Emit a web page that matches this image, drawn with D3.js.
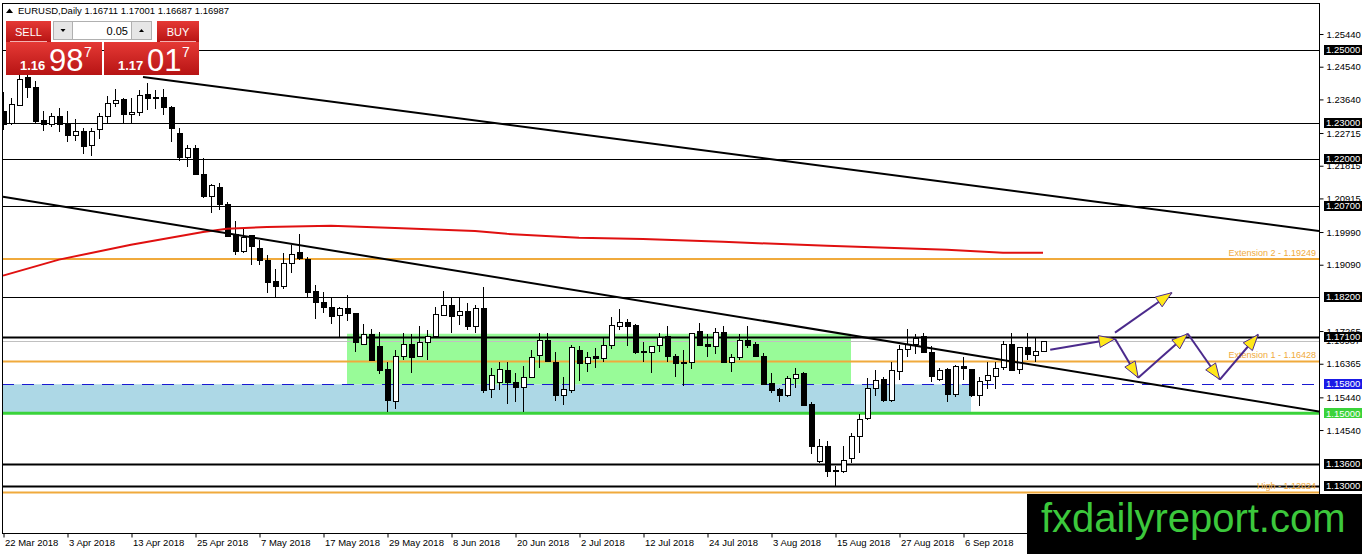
<!DOCTYPE html>
<html>
<head>
<meta charset="utf-8">
<script src="https://cdn.jsdelivr.net/npm/d3@7"></script>
<style>
  body { margin: 0; background: #fff; }
  svg { display: block; font-family: "Liberation Sans", Arial, sans-serif; }
</style>
</head>
<body>
<svg id="chart" width="1362" height="554"></svg>
<script>
// EURUSD daily candles, one row per bar: [open, high, low, close]
var candles = [
  [1.2330,1.2385,1.2280,1.2294],[1.2299,1.2368,1.2294,1.2349],[1.2346,1.2445,1.2346,1.2418],[1.2423,1.2451,1.2368,1.2396],
  [1.2398,1.2415,1.2299,1.2302],[1.2305,1.2332,1.2277,1.2296],[1.2296,1.2327,1.2288,1.2316],[1.2316,1.2341,1.2275,1.2296],
  [1.2294,1.2332,1.2247,1.2266],[1.2264,1.2310,1.2250,1.2275],[1.2275,1.2286,1.2214,1.2234],[1.2236,1.2286,1.2209,1.2275],
  [1.2280,1.2327,1.2256,1.2316],[1.2316,1.2374,1.2297,1.2352],[1.2352,1.2393,1.2344,1.2360],[1.2363,1.2368,1.2299,1.2322],
  [1.2322,1.2368,1.2299,1.2327],[1.2327,1.2390,1.2319,1.2374],[1.2377,1.2410,1.2336,1.2366],[1.2368,1.2390,1.2338,1.2366],
  [1.2368,1.2393,1.2322,1.2341],[1.2341,1.2347,1.2247,1.2283],[1.2270,1.2286,1.2195,1.2204],[1.2204,1.2239,1.2179,1.2228],
  [1.2228,1.2239,1.2157,1.2157],[1.2157,1.2204,1.2094,1.2096],[1.2096,1.2132,1.2052,1.2127],[1.2121,1.2135,1.2061,1.2074],
  [1.2074,1.2083,1.1986,1.1986],[1.1992,1.2030,1.1937,1.1945],[1.1945,1.2008,1.1942,1.1983],[1.1989,1.1992,1.1909,1.1959],
  [1.1953,1.1978,1.1907,1.1920],[1.1920,1.1937,1.1832,1.1860],[1.1863,1.1896,1.1821,1.1849],[1.1849,1.1942,1.1841,1.1912],
  [1.1912,1.1964,1.1887,1.1937],[1.1942,1.1994,1.1923,1.1926],[1.1923,1.1929,1.1821,1.1832],[1.1835,1.1852,1.1761,1.1805],
  [1.1805,1.1835,1.1775,1.1791],[1.1791,1.1821,1.1747,1.1766],[1.1769,1.1794,1.1711,1.1788],[1.1788,1.1827,1.1753,1.1775],
  [1.1775,1.1777,1.1670,1.1695],[1.1689,1.1747,1.1689,1.1717],[1.1717,1.1731,1.1645,1.1645],[1.1684,1.1725,1.1607,1.1618],
  [1.1621,1.1640,1.1505,1.1535],[1.1532,1.1673,1.1513,1.1656],[1.1656,1.1722,1.1648,1.1689],[1.1689,1.1717,1.1612,1.1653],
  [1.1656,1.1741,1.1656,1.1695],[1.1695,1.1728,1.1648,1.1711],[1.1711,1.1794,1.1708,1.1772],[1.1769,1.1838,1.1769,1.1797],
  [1.1797,1.1819,1.1722,1.1766],[1.1769,1.1819,1.1744,1.1780],[1.1780,1.1805,1.1728,1.1739],[1.1739,1.1799,1.1722,1.1788],
  [1.1788,1.1849,1.1557,1.1563],[1.1566,1.1626,1.1541,1.1604],[1.1585,1.1640,1.1563,1.1620],[1.1618,1.1640,1.1527,1.1585],
  [1.1585,1.1612,1.1532,1.1571],[1.1571,1.1631,1.1505,1.1599],[1.1599,1.1673,1.1599,1.1653],[1.1658,1.1722,1.1626,1.1700],
  [1.1700,1.1720,1.1642,1.1642],[1.1640,1.1670,1.1535,1.1549],[1.1549,1.1599,1.1524,1.1566],[1.1563,1.1689,1.1555,1.1681],
  [1.1673,1.1684,1.1588,1.1637],[1.1637,1.1670,1.1615,1.1653],[1.1656,1.1681,1.1626,1.1651],[1.1651,1.1711,1.1642,1.1686],
  [1.1686,1.1766,1.1678,1.1741],[1.1739,1.1788,1.1728,1.1750],[1.1750,1.1761,1.1686,1.1739],[1.1741,1.1747,1.1662,1.1667],
  [1.1670,1.1695,1.1642,1.1667],[1.1667,1.1684,1.1612,1.1684],[1.1686,1.1722,1.1670,1.1708],[1.1711,1.1741,1.1642,1.1656],
  [1.1656,1.1662,1.1601,1.1637],[1.1640,1.1675,1.1574,1.1637],[1.1640,1.1722,1.1623,1.1720],[1.1725,1.1750,1.1684,1.1686],
  [1.1689,1.1717,1.1656,1.1684],[1.1684,1.1736,1.1662,1.1722],[1.1722,1.1741,1.1640,1.1640],[1.1640,1.1662,1.1615,1.1653],
  [1.1653,1.1717,1.1648,1.1700],[1.1700,1.1741,1.1681,1.1686],[1.1689,1.1697,1.1656,1.1656],[1.1656,1.1667,1.1579,1.1579],
  [1.1582,1.1612,1.1557,1.1563],[1.1566,1.1571,1.1530,1.1549],[1.1549,1.1604,1.1546,1.1596],[1.1596,1.1626,1.1571,1.1607],
  [1.1610,1.1615,1.1521,1.1521],[1.1524,1.1532,1.1387,1.1409],[1.1367,1.1428,1.1362,1.1409],[1.1409,1.1423,1.1326,1.1340],
  [1.1343,1.1354,1.1301,1.1340],[1.1340,1.1409,1.1335,1.1370],[1.1376,1.1447,1.1362,1.1436],[1.1436,1.1497,1.1392,1.1483],
  [1.1485,1.1598,1.1483,1.1568],[1.1568,1.1620,1.1549,1.1590],[1.1593,1.1601,1.1530,1.1535],[1.1535,1.1640,1.1532,1.1618],
  [1.1615,1.1689,1.1593,1.1675],[1.1675,1.1731,1.1656,1.1689],[1.1689,1.1717,1.1662,1.1706],[1.1711,1.1720,1.1667,1.1667],
  [1.1667,1.1686,1.1585,1.1601],[1.1593,1.1626,1.1588,1.1618],[1.1620,1.1626,1.1530,1.1552],[1.1552,1.1634,1.1546,1.1629],
  [1.1629,1.1656,1.1593,1.1623],[1.1620,1.1623,1.1546,1.1549],[1.1549,1.1601,1.1521,1.1588],[1.1590,1.1640,1.1566,1.1604],
  [1.1601,1.1642,1.1566,1.1623],[1.1626,1.1700,1.1618,1.1689],[1.1689,1.1720,1.1618,1.1618],[1.1620,1.1681,1.1607,1.1681],
  [1.1681,1.1722,1.1648,1.1662],[1.1658,1.1711,1.1642,1.1670],[1.16711,1.17001,1.16687,1.16987]
];

// one date label every 8 bars
var dateTicks = ['22 Mar 2018', '3 Apr 2018', '13 Apr 2018', '25 Apr 2018', '7 May 2018', '17 May 2018',
  '29 May 2018', '8 Jun 2018', '20 Jun 2018', '2 Jul 2018', '12 Jul 2018', '24 Jul 2018',
  '3 Aug 2018', '15 Aug 2018', '27 Aug 2018', '6 Sep 2018'];

// the ones fully hidden under the price tags are left out
var priceTicks = [1.25440, 1.24540, 1.23640, 1.22715, 1.21815, 1.20915, 1.19990, 1.19090,
  1.17265, 1.16365, 1.15440, 1.14540];

var keyLevels = [1.25, 1.23, 1.22, 1.207, 1.182, 1.171, 1.136, 1.13];
var extNames = ['Extension 2', 'Extension 1', 'High'];
var extPrices = [1.19249, 1.16428, 1.12824];
var supportLevel = 1.158;
var floorLevel = 1.15;
var bidPrice = 1.16987;
var lastQuote = [1.16711, 1.17001, 1.16687, 1.16987];

// 200-day moving average read at a few bars: [bar, price]
var maPoints = [[0,1.1879],[7,1.1923],[16,1.1964],[25,1.1999],[28,1.2008],[33,1.2013],[41,1.2016],
  [49,1.2010],[59,1.2002],[63,1.1994],[72,1.1983],[80,1.1980],[90,1.1972],[103,1.1961],
  [118,1.1950],[125,1.1942],[130,1.1942]];

// trend lines, two anchors each: [bar, price]
var upperTrend = [[17.5, 1.2426], [164.5, 1.2002]];
var lowerTrend = [[0, 1.2096], [164.5, 1.1505]];

// zones: [bar from, price top], [bar to, price bottom]
var rangeZone = [[43, 1.1719], [106, 1.158]];
var supportZone = [[-5, 1.158], [121, 1.15]];

// projected path, arrow segments: [[bar, price], [bar, price]]
var projection = [
  [[130.9, 1.1675], [139, 1.1705]],
  [[139, 1.1722], [146.1, 1.1832]],
  [[139, 1.1705], [141.9, 1.1598]],
  [[141.9, 1.1598], [148.1, 1.1719]],
  [[148.1, 1.1719], [152.1, 1.1593]],
  [[152.1, 1.1593], [156.9, 1.1717]]
];

var plot = { left: 2, right: 1319, top: 3, bottom: 533 };

var x = d3.scaleLinear().domain([0, 130]).range([3, 1043]);
var y = d3.scaleLinear().domain([1.13, 1.25]).range([486, 50]);
var fmt = d3.format('.5f');

var svg = d3.select('#chart');

var defs = svg.append('defs');
defs.append('clipPath').attr('id', 'plotclip')
  .append('rect')
    .attr('x', plot.left).attr('y', plot.top)
    .attr('width', plot.right - plot.left).attr('height', plot.bottom - plot.top);

var grad = defs.append('linearGradient').attr('id', 'redgrad')
  .attr('x1', 0).attr('y1', 0).attr('x2', 0).attr('y2', 1);
grad.append('stop').attr('offset', '0%').attr('stop-color', '#e53935');
grad.append('stop').attr('offset', '100%').attr('stop-color', '#b71414');

svg.append('rect').attr('width', 1362).attr('height', 554).attr('fill', '#fff');

var g = svg.append('g').attr('clip-path', 'url(#plotclip)');

// zones behind everything
function zone(z, color) {
  g.append('rect')
    .attr('x', x(z[0][0])).attr('y', y(z[0][1]))
    .attr('width', x(z[1][0]) - x(z[0][0]))
    .attr('height', y(z[1][1]) - y(z[0][1]))
    .attr('fill', color);
}
zone(supportZone, '#add8e6');
zone(rangeZone, '#98fb98');

// horizontal levels
var thick = [1.171, 1.136, 1.13];
g.selectAll('line.level')
  .data(keyLevels)
  .enter()
    .append('line')
      .attr('class', 'level')
      .attr('x1', plot.left).attr('x2', plot.right)
      .attr('y1', function(d) { return Math.round(y(d)) + 0.5; })
      .attr('y2', function(d) { return Math.round(y(d)) + 0.5; })
      .attr('stroke', '#000')
      .attr('stroke-width', function(d) { return thick.indexOf(d) >= 0 ? 2 : 1; });

g.append('line')
  .attr('x1', plot.left).attr('x2', plot.right)
  .attr('y1', Math.round(y(bidPrice)) + 0.5).attr('y2', Math.round(y(bidPrice)) + 0.5)
  .attr('stroke', '#c0c0c0');

g.selectAll('line.ext')
  .data(extPrices)
  .enter()
    .append('line')
      .attr('class', 'ext')
      .attr('x1', plot.left).attr('x2', plot.right)
      .attr('y1', function(d) { return y(d); })
      .attr('y2', function(d) { return y(d); })
      .attr('stroke', '#f0aa3c')
      .attr('stroke-width', 2);

g.append('line')
  .attr('x1', plot.left).attr('x2', plot.right)
  .attr('y1', Math.round(y(supportLevel)) + 0.5).attr('y2', Math.round(y(supportLevel)) + 0.5)
  .attr('stroke', '#1a1ad0')
  .attr('stroke-dasharray', '12,8');

g.append('line')
  .attr('x1', plot.left).attr('x2', plot.right)
  .attr('y1', y(floorLevel)).attr('y2', y(floorLevel))
  .attr('stroke', '#3ad33a')
  .attr('stroke-width', 3);

g.selectAll('text.ext')
  .data(extPrices)
  .enter()
    .append('text')
      .attr('class', 'ext')
      .attr('x', plot.right - 3)
      .attr('y', function(d) { return y(d) - 3; })
      .attr('text-anchor', 'end')
      .attr('font-size', 9)
      .attr('fill', '#f0aa3c')
      .text(function(d, i) { return extNames[i] + ' - ' + fmt(d); });

// candles
var bars = g.append('g').attr('shape-rendering', 'crispEdges');
bars.selectAll('line.wick')
  .data(candles)
  .enter()
    .append('line')
      .attr('class', 'wick')
      .attr('x1', function(d, i) { return x(i) + 0.5; })
      .attr('x2', function(d, i) { return x(i) + 0.5; })
      .attr('y1', function(d) { return y(d[1]); })
      .attr('y2', function(d) { return y(d[2]); })
      .attr('stroke', '#000');

bars.selectAll('rect.body')
  .data(candles)
  .enter()
    .append('rect')
      .attr('class', 'body')
      .attr('x', function(d, i) { return x(i) - 2; })
      .attr('width', 5)
      .attr('y', function(d) { return y(Math.max(d[0], d[3])); })
      .attr('height', function(d) { return Math.max(1, Math.abs(y(d[0]) - y(d[3]))); })
      .attr('fill', function(d) { return d[3] > d[0] ? '#fff' : '#000'; })
      .attr('stroke', '#000');

// moving average
var line = d3.line()
  .x(function(d) { return x(d[0]); })
  .y(function(d) { return y(d[1]); });

g.append('path')
  .attr('d', line(maPoints))
  .attr('fill', 'none')
  .attr('stroke', '#e01010')
  .attr('stroke-width', 2);

// trend lines
[upperTrend, lowerTrend].forEach(function(t) {
  g.append('path')
    .attr('d', line(t))
    .attr('fill', 'none')
    .attr('stroke', '#000')
    .attr('stroke-width', 2);
});

// projected path with yellow heads
projection.forEach(function(s) {
  var x1 = x(s[0][0]), y1 = y(s[0][1]), x2 = x(s[1][0]), y2 = y(s[1][1]);
  g.append('line')
    .attr('x1', x1).attr('y1', y1).attr('x2', x2).attr('y2', y2)
    .attr('stroke', '#4b2a8c')
    .attr('stroke-width', 2);
  var len = Math.hypot(x2 - x1, y2 - y1);
  var ux = (x2 - x1) / len, uy = (y2 - y1) / len;
  var bx = x2 - ux * 16, by = y2 - uy * 16;
  var pts = [[x2, y2], [bx - uy * 6, by + ux * 6], [bx + uy * 6, by - ux * 6]];
  g.append('polygon')
    .attr('points', pts.map(function(p) { return p.join(','); }).join(' '))
    .attr('fill', '#ffe81a')
    .attr('stroke', '#4b2a8c')
    .attr('stroke-width', 1);
});

// frame
svg.append('rect')
  .attr('x', plot.left + 0.5).attr('y', plot.top + 0.5)
  .attr('width', plot.right - plot.left).attr('height', plot.bottom - plot.top)
  .attr('fill', 'none')
  .attr('stroke', '#000');

// date axis
var xAxis = d3.axisBottom(x)
  .tickValues(dateTicks.map(function(d, i) { return i * 8; }))
  .tickFormat(function(d, i) { return dateTicks[i]; })
  .tickSize(4)
  .tickPadding(2);

svg.append('g')
  .attr('transform', 'translate(0.5,' + (plot.bottom + 0.5) + ')')
  .call(xAxis)
  .call(function(a) { a.select('.domain').remove(); })
  .call(function(a) {
    a.selectAll('text')
      .attr('text-anchor', 'start')
      .attr('dx', 1)
      .attr('font-size', 9.5)
      .attr('font-family', '"Liberation Sans", Arial, sans-serif')
      .attr('fill', '#000');
  });

// price axis
var yAxis = d3.axisRight(y)
  .tickValues(priceTicks)
  .tickFormat(fmt)
  .tickSize(4)
  .tickPadding(3);

svg.append('g')
  .attr('transform', 'translate(' + (plot.right + 0.5) + ',0)')
  .call(yAxis)
  .call(function(a) { a.select('.domain').remove(); })
  .call(function(a) {
    a.selectAll('text')
      .attr('font-size', 9.5)
      .attr('font-family', '"Liberation Sans", Arial, sans-serif')
      .attr('fill', '#000');
  });

svg.append('text')
  .attr('x', 1326).attr('y', y(bidPrice)).attr('dy', '0.32em')
  .attr('font-size', 9.5)
  .text(fmt(bidPrice));

// price tags on the axis
function tag(price, color) {
  svg.append('rect')
    .attr('x', 1324).attr('y', Math.round(y(price)) - 5)
    .attr('width', 38).attr('height', 10)
    .attr('fill', color);
  svg.append('text')
    .attr('x', 1326).attr('y', y(price)).attr('dy', '0.34em')
    .attr('font-size', 9.5)
    .attr('fill', '#fff')
    .text(fmt(price));
}
keyLevels.forEach(function(p) { tag(p, '#000'); });
tag(supportLevel, '#1a1ae6');
tag(floorLevel, '#3ad33a');

// title
svg.append('path').attr('d', 'M6,13 L9.5,8.5 L13,13 Z').attr('fill', '#000');
svg.append('text')
  .attr('x', 18).attr('y', 14)
  .attr('font-size', 9.5)
  .text('EURUSD,Daily  ' + lastQuote.map(fmt).join(' '));

// one-click trading panel
var panel = svg.append('g');
panel.append('rect').attr('x', 6).attr('y', 21).attr('width', 45).attr('height', 21).attr('fill', 'url(#redgrad)');
panel.append('rect').attr('x', 157).attr('y', 21).attr('width', 42).attr('height', 21).attr('fill', 'url(#redgrad)');
panel.append('rect').attr('x', 6).attr('y', 42).attr('width', 96).attr('height', 33).attr('fill', 'url(#redgrad)');
panel.append('rect').attr('x', 104).attr('y', 42).attr('width', 95).attr('height', 33).attr('fill', 'url(#redgrad)');
panel.append('line').attr('x1', 10).attr('x2', 47).attr('y1', 41.5).attr('y2', 41.5).attr('stroke', '#f3b0b0');
panel.append('line').attr('x1', 160).attr('x2', 196).attr('y1', 41.5).attr('y2', 41.5).attr('stroke', '#f3b0b0');
panel.append('text').attr('x', 28.5).attr('y', 36).attr('text-anchor', 'middle')
  .attr('font-size', 11).attr('fill', '#fff').text('SELL');
panel.append('text').attr('x', 178).attr('y', 36).attr('text-anchor', 'middle')
  .attr('font-size', 11).attr('fill', '#fff').text('BUY');

panel.append('rect').attr('x', 53.5).attr('y', 21.5).attr('width', 19).attr('height', 18)
  .attr('fill', '#e6e6e6').attr('stroke', '#b0b0b0');
panel.append('rect').attr('x', 72.5).attr('y', 21.5).attr('width', 59).attr('height', 18)
  .attr('fill', '#fff').attr('stroke', '#b0b0b0');
panel.append('rect').attr('x', 131.5).attr('y', 21.5).attr('width', 20).attr('height', 18)
  .attr('fill', '#e6e6e6').attr('stroke', '#b0b0b0');
panel.append('path').attr('d', 'M60.5,29 L65.5,29 L63,32 Z').attr('fill', '#000');
panel.append('path').attr('d', 'M139,32 L144,32 L141.5,29 Z').attr('fill', '#000');
panel.append('text').attr('x', 128).attr('y', 35).attr('text-anchor', 'end')
  .attr('font-size', 11).text('0.05');

function quote(x0, big, small, pip) {
  panel.append('text').attr('x', x0).attr('y', 70)
    .attr('font-size', 13).attr('font-weight', 'bold').attr('fill', '#fff').text(big);
  panel.append('text').attr('x', x0 + 29).attr('y', 71)
    .attr('font-size', 31).attr('fill', '#fff').text(small);
  panel.append('text').attr('x', x0 + 64).attr('y', 57)
    .attr('font-size', 14).attr('fill', '#fff').text(pip);
}
quote(20, '1.16', '98', '7');
quote(118, '1.17', '01', '7');

// watermark
svg.append('rect').attr('x', 1027).attr('y', 494).attr('width', 335).attr('height', 60).attr('fill', '#000');
svg.append('text')
  .attr('x', 1041).attr('y', 532)
  .attr('font-size', 40)
  .attr('fill', '#3cc83c')
  .text('fxdailyreport.com');
</script>
</body>
</html>
